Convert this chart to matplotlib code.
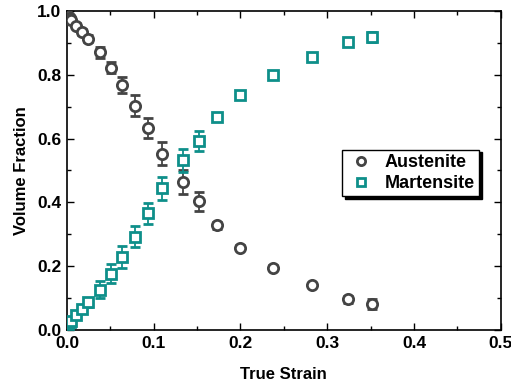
import numpy as np
import matplotlib.pyplot as plt
from matplotlib.ticker import MultipleLocator

plt.rcParams['font.family'] = ['Liberation Sans', 'DejaVu Sans']
plt.rcParams['font.weight'] = 'bold'

# strain values shared by both phases
strain = [0.001, 0.003, 0.005, 0.011, 0.017, 0.024, 0.038, 0.051, 0.063, 0.078,
          0.093, 0.110, 0.134, 0.152, 0.173, 0.200, 0.237, 0.283, 0.324, 0.352]

austenite = [0.985, 0.978, 0.970, 0.953, 0.933, 0.913, 0.870, 0.822, 0.768, 0.703,
             0.632, 0.553, 0.465, 0.403, 0.328, 0.258, 0.196, 0.141, 0.096, 0.082]
austenite_err = [0.005, 0.005, 0.005, 0.008, 0.010, 0.012, 0.018, 0.017, 0.024, 0.032,
                 0.031, 0.037, 0.038, 0.030, 0.012, 0.008, 0.007, 0.007, 0.010, 0.015]

martensite = [0.018, 0.024, 0.030, 0.046, 0.066, 0.087, 0.127, 0.176, 0.229, 0.293,
              0.366, 0.444, 0.532, 0.593, 0.669, 0.737, 0.800, 0.856, 0.903, 0.917]
martensite_err = [0.005, 0.006, 0.006, 0.010, 0.012, 0.015, 0.026, 0.030, 0.033, 0.034,
                  0.033, 0.035, 0.036, 0.031, 0.012, 0.007, 0.006, 0.007, 0.010, 0.016]

grey = '#444444'
teal = '#0e8f8a'

fig = plt.figure(figsize=(5.11, 3.87), dpi=100)
ax = fig.add_axes([0.131, 0.147, 0.849, 0.825])

a = ax.errorbar(strain, austenite, yerr=austenite_err, fmt='o', ms=7.4, mfc='white',
                mec=grey, mew=2.0, ecolor=grey, elinewidth=1.3, capsize=3.5,
                capthick=1.3, zorder=3)
m = ax.errorbar(strain, martensite, yerr=martensite_err, fmt='s', ms=6.8, mfc='white',
                mec=teal, mew=2.0, ecolor=teal, elinewidth=1.3, capsize=3.5,
                capthick=1.3, zorder=3)

ax.set_xlim(0, 0.5)
ax.set_ylim(0, 1.0)
ax.xaxis.set_major_locator(MultipleLocator(0.1))
ax.xaxis.set_minor_locator(MultipleLocator(0.05))
ax.yaxis.set_major_locator(MultipleLocator(0.2))
ax.yaxis.set_minor_locator(MultipleLocator(0.1))
ax.xaxis.set_major_formatter(plt.FormatStrFormatter('%.1f'))
ax.yaxis.set_major_formatter(plt.FormatStrFormatter('%.1f'))
ax.tick_params(which='both', direction='in', top=True, right=True, width=1.0)
ax.tick_params(which='major', length=5, labelsize=12.5, pad=4)
ax.tick_params(which='minor', length=3)
for s in ax.spines.values():
    s.set_linewidth(1.2)

ax.set_xlabel('True Strain', fontsize=12, fontweight='bold', labelpad=12)
ax.set_ylabel('Volume Fraction', fontsize=12, fontweight='bold', labelpad=6)

# legend shows markers only, no error bars
leg = ax.legend([a[0], m[0]], ['Austenite', 'Martensite'], loc='upper left',
                bbox_to_anchor=(0.635, 0.565), fontsize=13, frameon=True,
                fancybox=False, shadow={'color': 'black', 'alpha': 1.0},
                handletextpad=0.5, borderpad=0.25, labelspacing=0.2,
                handlelength=1.6, borderaxespad=0, markerscale=0.8)
leg.get_frame().set_edgecolor('black')
leg.get_frame().set_linewidth(1.0)
for t in leg.get_texts():
    t.set_fontweight('bold')

fig.savefig('out.png', dpi=100)
